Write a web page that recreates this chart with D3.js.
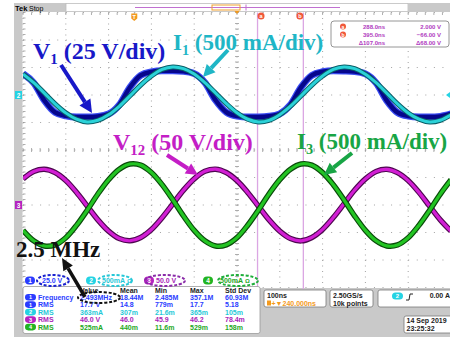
<!DOCTYPE html>
<html><head><meta charset="utf-8">
<script src="https://cdn.jsdelivr.net/npm/d3@7"></script>
<style>html,body{margin:0;padding:0;background:#fff;} svg{display:block;}</style>
</head><body><svg id="scope" width="450" height="337"></svg>
<script>
// ---- acquisition (time in ns relative to trigger, 25 ns steps) ----
const sampleTimesNs = [-260,-235,-210,-185,-160,-135,-110,-85,-60,-35,-10,15,40,65,90,115,140,165,190,215,240,265,290,315,340,365,390,415,440,465,490,515,540,565,590,615,640,665,690,715,740];
// channel 1: V1 (V)
const v1Volts = [19.3,11.0,-5.0,-15.8,-19.0,-20.0,-20.0,-19.5,-17.3,-9.0,7.0,17.8,21.0,22.0,22.0,21.5,
                 19.4,11.2,-4.8,-15.6,-19.2,-20.1,-20.0,-19.4,-17.1,-8.8,7.2,17.9,21.1,22.1,21.9,21.4,
                 19.2,11.0,-5.1,-15.9,-19.1,-20.0,-20.1,-19.5,-17.2];
// channel 2: I1 (mA)
const i1mA = [380,225,35,-160,-325,-440,-490,-460,-360,-205,-15,180,345,465,510,480,
              382,226,36,-158,-324,-441,-489,-461,-359,-204,-14,181,346,466,509,479,
              379,224,34,-161,-326,-440,-491,-460,-361];
// channel 3: V12 (V)
const v12Volts = [47.5,61,65,59,44.5,23,-2,-27,-47.5,-61,-65,-59,-44.5,-23,2,27,
                  47.6,61.2,65.1,59,44.3,22.8,-2.2,-27.1,-47.6,-61,-65.2,-59,-44.4,-22.9,2.1,27.2,
                  47.5,61,64.9,58.8,44.4,23,-2.1,-27,-47.4];
// channel 4: I3 (mA)
const i3mA = [-460,-650,-745,-725,-595,-370,-95,200,460,650,745,725,590,370,95,-200,
              -462,-652,-746,-724,-594,-368,-93,202,461,651,746,724,589,369,94,-201,
              -461,-651,-744,-726,-596,-371,-96,199,459];

// ---- channel settings ----
const channelIds = ["1","2","3","4"];
const unitsPerDiv = [25, 500, 50, 500];
const positionDiv = [2, 2, -2, -2];
const channelScaleText = ["25.0 V","500mA","50.0 V","500mA"];
const channelFill = ["#2a3cff","#25d3e3","#b524c0","#22b422"];
const channelText = ["#2a3cff","#1fc8d8","#a822b8","#1ea81e"];

// ---- cursors ----
const cursorNames = ["a","b"];
const cursorTimesNs = [288.0, 395.0];
const cursorLevelsV = [2.000, -66.00];

// ---- measurements ----
const measChannel = [1,1,2,3,4];
const measName  = ["Frequency","RMS","RMS","RMS","RMS"];
const measValue = ["2.493MHz","17.7 V","363mA","46.0 V","525mA"];
const measMean  = ["18.44M","14.8","307m","46.0","440m"];
const measMin   = ["2.485M","779m","21.6m","45.9","11.6m"];
const measMax   = ["357.1M","17.7","365m","46.2","529m"];
const measStd   = ["60.93M","5.18","105m","78.4m","158m"];
const measHeader = ["Value","Mean","Min","Max","Std Dev"];

// ---- timebase / trigger ----
const timebaseText = "100ns";
const delayText = "+\u25BC240.000ns";
const sampleRateText = ["2.50GS/s","10k points"];
const triggerLevelText = "0.00 A";
const dateText = ["14 Sep  2019","23:25:32"];

const svg = d3.select("#scope");
const W = 450, H = 337;
const x = d3.scaleLinear().domain([-260, 740]).range([23, 451]);
const y = d3.scaleLinear().domain([-5, 5]).range([287.5, 12.5]);
const scopeFont = "'Liberation Sans', Arial, sans-serif";
const serif = "'Liberation Serif', 'Times New Roman', serif";

svg.append("rect").attr("width", W).attr("height", H).attr("fill", "#fff");

// frame strips
svg.append("rect").attr("x", 14).attr("y", 3).attr("width", 8.5).attr("height", H - 3).attr("fill", "#c9c9c9");
svg.append("rect").attr("x", 14).attr("y", 288).attr("width", W - 14).attr("height", H - 288).attr("fill", "#c9c9c9");

// ---- graticule ----
const g = svg.append("g");
const xDivs = d3.range(-260, 741, 100);
const yDivs = d3.range(-5, 6, 1);
const minorX = (x(-160) - x(-260)) / 5, minorY = (y(0) - y(1)) / 5;
g.selectAll(".vgrid").data(xDivs).join("line")
  .attr("x1", d => x(d)).attr("x2", d => x(d)).attr("y1", y(5)).attr("y2", y(-5))
  .attr("stroke", "#a3a3a3").attr("stroke-width", 1)
  .attr("stroke-dasharray", `1 ${minorY - 1}`);
g.selectAll(".hgrid").data(yDivs).join("line")
  .attr("y1", d => y(d)).attr("y2", d => y(d)).attr("x1", x(-260)).attr("x2", x(740))
  .attr("stroke", "#a3a3a3").attr("stroke-width", 1)
  .attr("stroke-dasharray", `1 ${minorX - 1}`);
// ticks on centre axes and on the top/left edges
const xMinor = d3.range(0, 51).map(k => x(-260) + k * minorX);
const yMinor = d3.range(0, 51).map(k => y(5) + k * minorY);
g.selectAll(".tx").data(xMinor).join("line")
  .attr("x1", d => d).attr("x2", d => d).attr("y1", y(0) - 2).attr("y2", y(0) + 2)
  .attr("stroke", "#9a9a9a").attr("stroke-width", 0.8);
g.selectAll(".ty").data(yMinor).join("line")
  .attr("y1", d => d).attr("y2", d => d).attr("x1", x(240) - 2).attr("x2", x(240) + 2)
  .attr("stroke", "#9a9a9a").attr("stroke-width", 0.8);
g.selectAll(".txt").data(xMinor).join("line")
  .attr("x1", d => d).attr("x2", d => d).attr("y1", y(5)).attr("y2", y(5) + 2.5)
  .attr("stroke", "#9a9a9a").attr("stroke-width", 0.8);
g.selectAll(".tyl").data(yMinor).join("line")
  .attr("y1", d => d).attr("y2", d => d).attr("x1", x(-260)).attr("x2", x(-260) + 2.5)
  .attr("stroke", "#9a9a9a").attr("stroke-width", 0.8);

// ---- cursor lines ----
svg.selectAll(".cur").data(cursorTimesNs).join("line")
  .attr("x1", d => x(d)).attr("x2", d => x(d)).attr("y1", y(5)).attr("y2", 289)
  .attr("stroke", "#dba6e3").attr("stroke-width", 1.3);

// ---- traces ----
svg.append("clipPath").attr("id", "gclip").append("rect")
  .attr("x", x(-260)).attr("y", y(5)).attr("width", x(740) - x(-260)).attr("height", y(-5) - y(5));
const tr = svg.append("g").attr("clip-path", "url(#gclip)");
function trace(vals, ch, curve, outer, inner, wo, wi) {
  const ln = d3.line()
    .x((d, i) => x(sampleTimesNs[i]))
    .y(d => y(d / unitsPerDiv[ch] + positionDiv[ch]))
    .curve(curve);
  tr.append("path").attr("d", ln(vals)).attr("fill", "none").attr("stroke", outer).attr("stroke-width", wo).attr("stroke-linejoin", "round");
  tr.append("path").attr("d", ln(vals)).attr("fill", "none").attr("stroke", inner).attr("stroke-width", wi).attr("stroke-linejoin", "round");
}
trace(v1Volts, 0, d3.curveMonotoneX, "#3a4cf2", "#06068c", 7, 4.5);
trace(i1mA, 1, d3.curveCatmullRom, "#0a5f68", "#2bd2d8", 5, 3);
trace(v12Volts, 2, d3.curveCatmullRom, "#4e0850", "#d21ed4", 5.5, 3.2);
trace(i3mA, 3, d3.curveCatmullRom, "#0a4a0a", "#23c423", 5.5, 3.2);

// ---- channel ground markers ----
[[1, "2"], [2, "3"]].forEach(([ch, lbl]) => {
  const yy = y(positionDiv[ch]);
  svg.append("rect").attr("x", 15).attr("y", yy - 4).attr("width", 7).attr("height", 8).attr("fill", channelFill[ch]);
  svg.append("text").attr("x", 18.5).attr("y", yy + 2.5).attr("text-anchor", "middle")
    .attr("font-family", scopeFont).attr("font-size", 6.5).attr("font-weight", "bold").attr("fill", "#fff").text(lbl);
});
svg.append("path").attr("d", `M450,${y(2) - 3}L446,${y(2)}L450,${y(2) + 3}Z`).attr("fill", channelFill[1]);

// ---- top status bar ----
svg.append("rect").attr("x", 14).attr("y", 3).attr("width", 52).attr("height", 9).attr("fill", "#c9c9c9");
svg.append("text").attr("x", 15).attr("y", 10.5).attr("font-family", scopeFont).attr("font-size", 7.5).attr("font-weight", "bold").text("Tek");
svg.append("text").attr("x", 29).attr("y", 10.5).attr("font-family", scopeFont).attr("font-size", 7).text("Stop");
svg.append("rect").attr("x", 66).attr("y", 3.5).attr("width", 342).attr("height", 8).attr("fill", "#fff").attr("stroke", "#bdbdbd").attr("stroke-width", 0.8);
svg.append("rect").attr("x", 408).attr("y", 3).attr("width", 42).attr("height", 9).attr("fill", "#c9c9c9");
svg.append("line").attr("x1", 135).attr("x2", 340).attr("y1", 7.5).attr("y2", 7.5).attr("stroke", "#c070d0").attr("stroke-width", 1);
svg.append("line").attr("x1", 246).attr("x2", 246).attr("y1", 4.5).attr("y2", 10.5).attr("stroke", "#c070d0").attr("stroke-width", 1);
svg.append("rect").attr("x", 212).attr("y", 5).attr("width", 28).attr("height", 5).attr("fill", "none").attr("stroke", "#f0a030").attr("stroke-width", 1);
svg.append("path").attr("d", `M${x(240) - 2.5},11L${x(240) + 2.5},11L${x(240)},14Z`).attr("fill", "#f09a20");

// trigger marker
const tX = x(0);
svg.append("path").attr("d", `M${tX - 3},13.5L${tX + 3},13.5L${tX + 3},18.5L${tX},21L${tX - 3},18.5Z`).attr("fill", "#f39a1e");
svg.append("text").attr("x", tX).attr("y", 19).attr("text-anchor", "middle").attr("font-family", scopeFont).attr("font-size", 5.5).attr("font-weight", "bold").attr("fill", "#fff").text("T");

// cursor tags on the graticule
cursorNames.forEach((c, i) => {
  const cx = x(cursorTimesNs[i]) + (i === 0 ? 3.5 : -3.5);
  svg.append("circle").attr("cx", cx).attr("cy", 16).attr("r", 3.5).attr("fill", "#f0583a");
  svg.append("text").attr("x", cx).attr("y", 18).attr("text-anchor", "middle").attr("font-family", scopeFont).attr("font-size", 5.5).attr("font-weight", "bold").attr("fill", "#fff").text(c);
});

// cursor readout box
svg.append("rect").attr("x", 331).attr("y", 21).attr("width", 118).attr("height", 26).attr("rx", 3).attr("fill", "#fff").attr("stroke", "#8a8a8a").attr("stroke-width", 0.9);
const curRows = [26.5, 34.5, 42.5];
const fmtT = d3.format(".1f"), fmtV = v => d3.format(".4r")(v).replace("-", "\u2212");
cursorNames.forEach((c, i) => {
  svg.append("circle").attr("cx", 343).attr("cy", curRows[i]).attr("r", 3).attr("fill", "#f0583a");
  svg.append("text").attr("x", 343).attr("y", curRows[i] + 2).attr("text-anchor", "middle").attr("font-family", scopeFont).attr("font-size", 5).attr("font-weight", "bold").attr("fill", "#fff").text(c);
  svg.append("text").attr("x", 385).attr("y", curRows[i] + 2.2).attr("text-anchor", "end").attr("font-family", scopeFont).attr("font-size", 6).attr("font-weight", "bold").attr("fill", "#b03cc0").text(fmtT(cursorTimesNs[i]) + "ns");
  svg.append("text").attr("x", 441).attr("y", curRows[i] + 2.2).attr("text-anchor", "end").attr("font-family", scopeFont).attr("font-size", 6).attr("font-weight", "bold").attr("fill", "#b03cc0").text(fmtV(cursorLevelsV[i]) + " V");
});
svg.append("text").attr("x", 385).attr("y", curRows[2] + 2.2).attr("text-anchor", "end").attr("font-family", scopeFont).attr("font-size", 6).attr("font-weight", "bold").attr("fill", "#b03cc0").text("\u0394" + fmtT(cursorTimesNs[1] - cursorTimesNs[0]) + "ns");
svg.append("text").attr("x", 441).attr("y", curRows[2] + 2.2).attr("text-anchor", "end").attr("font-family", scopeFont).attr("font-size", 6).attr("font-weight", "bold").attr("fill", "#b03cc0").text("\u0394" + d3.format(".2f")(Math.abs(cursorLevelsV[1] - cursorLevelsV[0])) + " V");

// ---- channel scale row ----
const chBadgeX = [25, 86, 144, 203];
const chTextX = [42, 102, 156, 220];
channelIds.forEach((id, i) => {
  svg.append("rect").attr("x", chBadgeX[i]).attr("y", 276.5).attr("width", 10).attr("height", 8).attr("rx", 4).attr("fill", channelFill[i]);
  svg.append("text").attr("x", chBadgeX[i] + 5).attr("y", 283).attr("text-anchor", "middle").attr("font-family", scopeFont).attr("font-size", 6.5).attr("font-weight", "bold").attr("fill", "#fff").text(id);
  const t = svg.append("text").attr("x", chTextX[i]).attr("y", 283.3).attr("font-family", scopeFont).attr("font-size", 7).attr("font-weight", "bold").attr("fill", channelText[i]).text(channelScaleText[i]);
  if (i === 1 || i === 3) t.append("tspan").attr("dx", 2).attr("font-size", 6).text("\u03A9");
});

// ---- measurement table ----
svg.append("rect").attr("x", 23).attr("y", 286.5).attr("width", 237).attr("height", 47).attr("rx", 2).attr("fill", "#fff").attr("stroke", "#9a9a9a").attr("stroke-width", 0.8);
const colX = [80, 120, 155, 190, 225];
const rowY = [300, 307.3, 314.8, 322.3, 329.8];
measHeader.forEach((h, j) => svg.append("text").attr("x", colX[j]).attr("y", 292.5).attr("font-family", scopeFont).attr("font-size", 7).attr("font-weight", "bold").attr("fill", "#222").text(h));
measName.forEach((n, r) => {
  const ch = measChannel[r] - 1;
  svg.append("rect").attr("x", 25).attr("y", rowY[r] - 6).attr("width", 11).attr("height", 6.6).attr("rx", 3.3).attr("fill", channelFill[ch]);
  svg.append("text").attr("x", 30.5).attr("y", rowY[r] - 0.8).attr("text-anchor", "middle").attr("font-family", scopeFont).attr("font-size", 5.5).attr("font-weight", "bold").attr("fill", "#fff").text(measChannel[r]);
  const cells = [n, measValue[r], measMean[r], measMin[r], measMax[r], measStd[r]];
  const cx = [38].concat(colX);
  cells.forEach((c, j) => svg.append("text").attr("x", cx[j]).attr("y", rowY[r]).attr("font-family", scopeFont).attr("font-size", 7).attr("font-weight", "bold").attr("fill", channelText[ch]).text(c));
});

// ---- timebase / acquisition / trigger / date boxes ----
function box(x0, y0, w, h) {
  svg.append("rect").attr("x", x0).attr("y", y0).attr("width", w).attr("height", h).attr("rx", 2).attr("fill", "#fff").attr("stroke", "#7a7a7a").attr("stroke-width", 0.8);
}
box(264, 290, 62, 17);
svg.append("text").attr("x", 267).attr("y", 297.5).attr("font-family", scopeFont).attr("font-size", 7).attr("font-weight", "bold").attr("fill", "#222").text(timebaseText);
svg.append("rect").attr("x", 267).attr("y", 300.5).attr("width", 4).attr("height", 5).attr("fill", "#f39a1e");
svg.append("text").attr("x", 271.5).attr("y", 305.5).attr("font-family", scopeFont).attr("font-size", 7).attr("font-weight", "bold").attr("fill", "#f39a1e").text(delayText);
box(330, 290, 43, 17);
sampleRateText.forEach((s, i) => svg.append("text").attr("x", 333).attr("y", 297.5 + i * 8).attr("font-family", scopeFont).attr("font-size", 7).attr("font-weight", "bold").attr("fill", "#222").text(s));
box(378, 290, 76, 17);
svg.append("rect").attr("x", 392).attr("y", 292.5).attr("width", 11).attr("height", 7).attr("rx", 3.5).attr("fill", channelFill[1]);
svg.append("text").attr("x", 397.5).attr("y", 298.3).attr("text-anchor", "middle").attr("font-family", scopeFont).attr("font-size", 6).attr("font-weight", "bold").attr("fill", "#fff").text("2");
svg.append("path").attr("d", "M406,300L409,300L410,294L413,294").attr("fill", "none").attr("stroke", "#222").attr("stroke-width", 1);
svg.append("text").attr("x", 450).attr("y", 298.3).attr("text-anchor", "end").attr("font-family", scopeFont).attr("font-size", 7).attr("font-weight", "bold").attr("fill", "#222").text(triggerLevelText);
box(404, 316, 50, 17);
dateText.forEach((s, i) => svg.append("text").attr("x", 406.5).attr("y", 323 + i * 8).attr("font-family", scopeFont).attr("font-size", 7).attr("font-weight", "bold").attr("fill", "#222").text(s));

// ---- annotations ----
const ann = svg.append("g");
function label(x0, y0, main, sub, rest, color, size) {
  const t = ann.append("text").attr("x", x0).attr("y", y0).attr("font-family", serif).attr("font-weight", "bold").attr("font-size", size).attr("fill", color);
  t.append("tspan").text(main);
  t.append("tspan").attr("font-size", size * 0.62).attr("dy", size * 0.22).text(sub);
  t.append("tspan").attr("dy", -size * 0.22).text(rest);
}
label(33, 59, "V", "1", " (25 V/div)", "#1818c8", 24);
label(173, 50, "I", "1", " (500 mA/div)", "#1fb6c6", 23);
label(113, 150, "V", "12", " (50 V/div)", "#c41ec6", 24);
label(297, 149, "I", "3", " (500 mA/div)", "#18a545", 23);
ann.append("text").attr("x", 16).attr("y", 257).attr("font-family", serif).attr("font-weight", "bold").attr("font-size", 23).attr("fill", "#111").text("2.5 MHz");

function arrow(x1, y1, x2, y2, color, w, hl, hw) {
  const a = Math.atan2(y2 - y1, x2 - x1);
  const bx = x2 - hl * Math.cos(a), by = y2 - hl * Math.sin(a);
  ann.append("line").attr("x1", x1).attr("y1", y1).attr("x2", bx).attr("y2", by).attr("stroke", color).attr("stroke-width", w);
  const px = -Math.sin(a) * hw / 2, py = Math.cos(a) * hw / 2;
  ann.append("path").attr("d", `M${x2},${y2}L${bx + px},${by + py}L${bx - px},${by - py}Z`).attr("fill", color);
}
arrow(61, 65, 92, 113, "#1818c8", 4, 13, 13);
arrow(228, 50, 203, 77, "#1fb6c6", 4, 12, 12);
arrow(167, 155, 198, 175, "#c41ec6", 4, 12, 12);
arrow(352, 153, 324, 175, "#18a545", 4, 12, 12);
arrow(85, 297, 62, 258, "#111", 3.5, 12, 11);

function dashedEllipse(cx, cy, rx, ry, color) {
  ann.append("ellipse").attr("cx", cx).attr("cy", cy).attr("rx", rx).attr("ry", ry)
    .attr("fill", "none").attr("stroke", color).attr("stroke-width", 2).attr("stroke-dasharray", "3 1.8");
}
dashedEllipse(53, 280.5, 16, 5.5, "#1a22d0");
dashedEllipse(115, 280.5, 17, 5.5, "#25c8d8");
dashedEllipse(165, 280.5, 20, 5.5, "#8a2aa8");
dashedEllipse(238, 280.5, 20, 5.5, "#1fae3a");
dashedEllipse(99, 297.5, 21, 5.5, "#111");
</script></body></html>
